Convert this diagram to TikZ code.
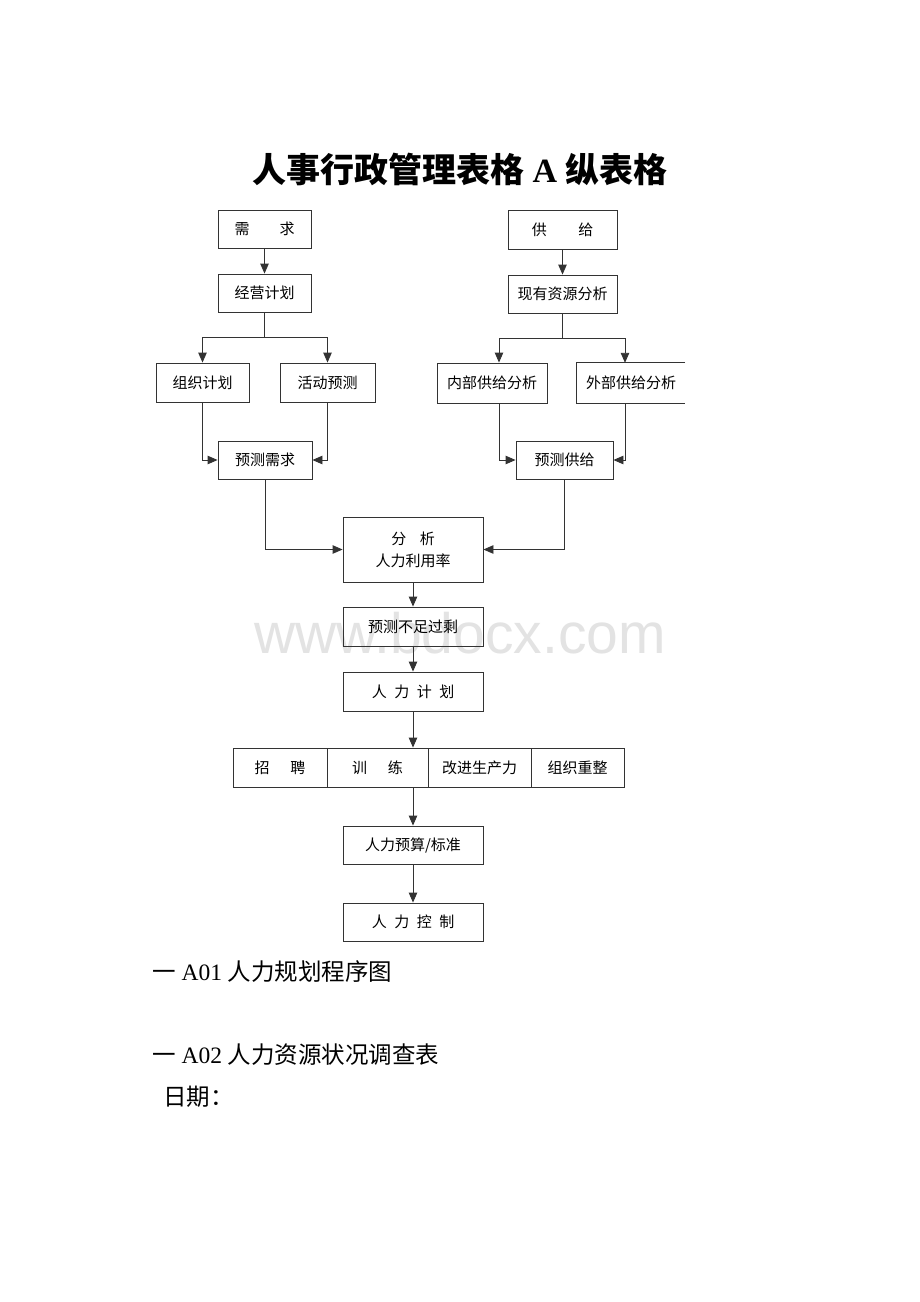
\documentclass[tikz,border=0pt]{standalone}
\usepackage{fontspec}
\setmainfont{Liberation Serif}
\newfontfamily\cjk{Noto Sans CJK SC}
\newfontfamily\wmfont{Liberation Sans}
\usetikzlibrary{arrows.meta}
\definecolor{linec}{gray}{0.2}
\begin{document}
\begin{tikzpicture}[x=1pt,y=-1pt,
  box/.style={draw=linec, line width=0.9pt, inner sep=0pt, align=center,
    font=\cjk\fontsize{15}{22}\selectfont},
  nobox/.style={inner sep=0pt, align=center, font=\cjk\fontsize{15}{22}\selectfont},
  conn/.style={draw=linec, line width=0.9pt},
  arr/.style={conn, -{Triangle[length=10pt,width=8.5pt]}}]
\fill[white] (0,0) rectangle (920,1302);
\useasboundingbox (0,0) rectangle (920,1302);

% watermark
\node[text=black!11, font=\wmfont\fontsize{57}{60}\selectfont, inner sep=0pt] (wm) at (460,633) {www.bdocx.com};

% title
\node[inner sep=0pt, font=\fontsize{34}{38}\selectfont\bfseries] (title) at (460,169)
  {{\cjk\bfseries 人事行政管理表格} A {\cjk\bfseries 纵表格}};

% left column
\node[box, minimum width=93pt, minimum height=38pt] (xq) at (264.5,229) {需\hspace{2em}求};
\node[box, minimum width=93pt, minimum height=38pt] (jy) at (264.5,293) {经营计划};
\node[box, minimum width=93pt, minimum height=39pt] (zz) at (202.5,382.5) {组织计划};
\node[box, minimum width=95pt, minimum height=39pt] (hd) at (327.5,382.5) {活动预测};
\node[box, minimum width=94pt, minimum height=38pt] (ycxq) at (265,460) {预测需求};

% right column
\node[box, minimum width=109pt, minimum height=39pt] (gj) at (562.5,229.5) {供\hspace{2.1em}给};
\node[box, minimum width=109pt, minimum height=38pt] (xy) at (562.5,294) {现有资源分析};
\node[box, minimum width=110pt, minimum height=40pt] (nb) at (492,383) {内部供给分析};
\node[nobox, minimum width=108pt, minimum height=40pt] (wb) at (631,383) {外部供给分析};
\draw[conn] (wb.north east) -| (wb.south west) -- (wb.south east);
\node[box, minimum width=97pt, minimum height=38pt] (ycgj) at (564.5,460) {预测供给};

% centre column
\node[box, minimum width=140pt, minimum height=65pt] (fx) at (413,549.5) {分\hspace{0.9em}析\\人力利用率};
\node[box, minimum width=140pt, minimum height=39pt] (bz) at (413,626.5) {预测不足过剩};
\node[box, minimum width=140pt, minimum height=39pt] (rljh) at (413,691.5) {人\hspace{0.5em}力\hspace{0.5em}计\hspace{0.5em}划};

\node[box, minimum width=94pt, minimum height=39pt] (c1) at (280,767.5) {招\hspace{1.4em}聘};
\node[box, minimum width=101pt, minimum height=39pt] (c2) at (377.5,767.5) {训\hspace{1.4em}练};
\node[box, minimum width=103pt, minimum height=39pt] (c3) at (479.5,767.5) {改进生产力};
\node[box, minimum width=93pt, minimum height=39pt] (c4) at (577.5,767.5) {组织重整};

\node[box, minimum width=140pt, minimum height=38pt] (ys) at (413,845) {人力预算/标准};
\node[box, minimum width=140pt, minimum height=38pt] (kz) at (413,922) {人\hspace{0.5em}力\hspace{0.5em}控\hspace{0.5em}制};

% connectors left
\draw[arr] (xq.south) -- (jy.north);
\coordinate (sp1) at (264.5,337);
\draw[conn] (jy.south) -- (sp1);
\draw[arr] (sp1) -| (zz.north);
\draw[arr] (sp1) -| (hd.north);
\draw[arr] (zz.south) |- (ycxq.west);
\draw[arr] (hd.south) |- (ycxq.east);
\draw[arr] (ycxq.south) |- (fx.west);

% connectors right
\draw[arr] (gj.south) -- (xy.north);
\coordinate (sp2) at (562.5,338);
\coordinate (sp2l) at (499,338);
\coordinate (sp2r) at (625,338);
\draw[conn] (xy.south) -- (sp2);
\draw[conn] (sp2l) -- (sp2r);
\draw[arr] (sp2l) -- (sp2l |- nb.north);
\draw[arr] (sp2r) -- (sp2r |- wb.north);
\draw[arr] (sp2l |- nb.south) |- (ycgj.west);
\draw[arr] (sp2r |- wb.south) |- (ycgj.east);
\draw[arr] (ycgj.south) |- (fx.east);

% connectors centre
\draw[arr] (fx.south) -- (bz.north);
\draw[arr] (bz.south) -- (rljh.north);
\draw[arr] (rljh.south) -- (rljh.south |- c2.north);
\draw[arr] (ys.north |- c2.south) -- (ys.north);
\draw[arr] (ys.south) -- (kz.north);

% bottom text
\node[anchor=west, inner sep=0pt, font=\fontsize{23.5}{27}\selectfont] (t1) at (152,972)
  {{\cjk 一} A01 {\cjk 人力规划程序图}};
\node[anchor=west, inner sep=0pt, font=\fontsize{23.5}{27}\selectfont] (t2) at (152,1055)
  {{\cjk 一} A02 {\cjk 人力资源状况调查表}};
\node[anchor=west, inner sep=0pt, font=\cjk\fontsize{23.5}{27}\selectfont] (t3) at (163,1097)
  {日期：};
\end{tikzpicture}
\end{document}
